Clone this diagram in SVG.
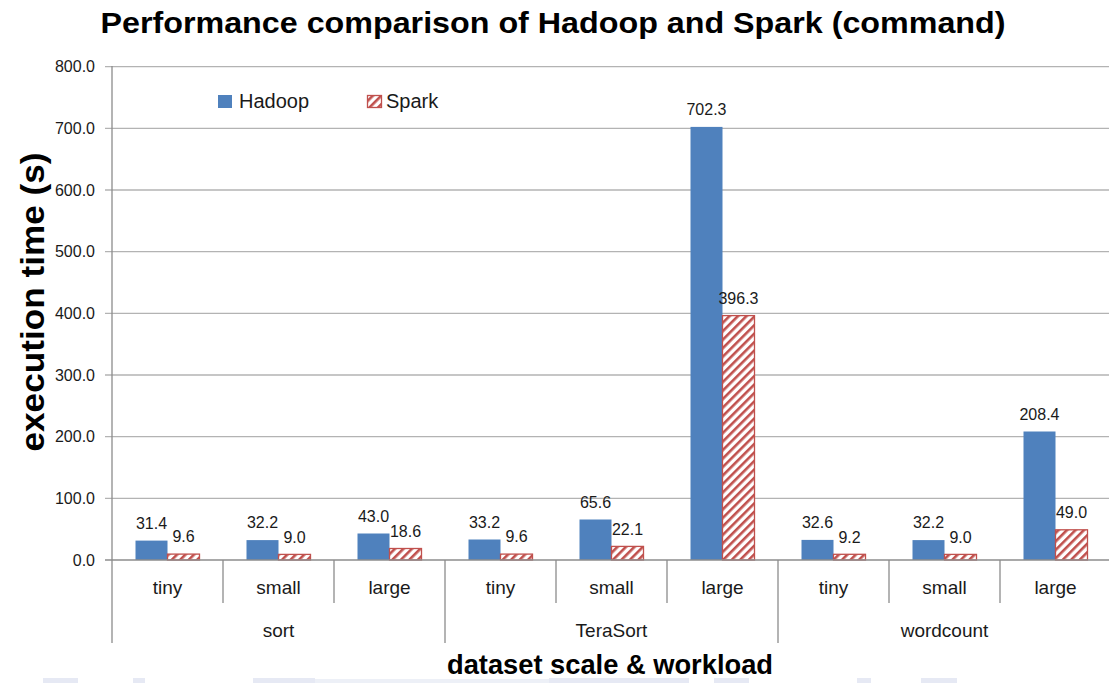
<svg xmlns="http://www.w3.org/2000/svg" width="1109" height="683" viewBox="0 0 1109 683">
<style>
text{font-family:"Liberation Sans",Arial,sans-serif;fill:#1a1a1a}
.grid{stroke:#b3b3b3;stroke-width:1.3}
.axis{stroke:#8c8c8c;stroke-width:1.3;fill:none}
.tick{font-size:16px;text-anchor:end}
.val{font-size:16px;text-anchor:middle}
.cat{font-size:19px;text-anchor:middle}
.grp{font-size:19px;text-anchor:middle}
.had{fill:#4f81bd}
.spk{fill:url(#hatch);stroke:#c0504d;stroke-width:1.3}
.faint{fill:#e6e9f4}
</style>
<defs>
<pattern id="hatch" patternUnits="userSpaceOnUse" width="6" height="6" patternTransform="rotate(45)">
<rect width="6" height="6" fill="#ffffff"/>
<rect x="0" y="0" width="2.6" height="6" fill="#c0504d"/>
</pattern>
</defs>
<rect width="1109" height="683" fill="#ffffff"/>

<g id="faint-strip">
<rect class="faint" x="43" y="678" width="35" height="5"/>
<rect class="faint" x="133" y="678" width="12" height="5"/>
<rect class="faint" x="253" y="678" width="62" height="5"/>
<rect class="faint" x="315" y="679" width="235" height="4" opacity="0.7"/>
<rect class="faint" x="549" y="678" width="140" height="5"/>
<rect class="faint" x="714" y="678" width="35" height="5"/>
<rect class="faint" x="857" y="678" width="14" height="5"/>
<rect class="faint" x="921" y="678" width="36" height="5"/>
</g>

<text id="title" x="553" y="33" font-size="30" font-weight="bold" text-anchor="middle" textLength="905" lengthAdjust="spacingAndGlyphs" style="fill:#000">Performance comparison of Hadoop and Spark (command)</text>

<g id="gridlines">
<line class="grid" x1="105" y1="66.7" x2="1109" y2="66.7"/>
<line class="grid" x1="105" y1="128.3" x2="1109" y2="128.3"/>
<line class="grid" x1="105" y1="190" x2="1109" y2="190"/>
<line class="grid" x1="105" y1="251.7" x2="1109" y2="251.7"/>
<line class="grid" x1="105" y1="313.3" x2="1109" y2="313.3"/>
<line class="grid" x1="105" y1="375" x2="1109" y2="375"/>
<line class="grid" x1="105" y1="436.7" x2="1109" y2="436.7"/>
<line class="grid" x1="105" y1="498.3" x2="1109" y2="498.3"/>
</g>

<g id="y-ticks">
<text class="tick" x="95" y="72">800.0</text>
<text class="tick" x="95" y="133.5">700.0</text>
<text class="tick" x="95" y="195.5">600.0</text>
<text class="tick" x="95" y="257">500.0</text>
<text class="tick" x="95" y="318.5">400.0</text>
<text class="tick" x="95" y="380.5">300.0</text>
<text class="tick" x="95" y="442">200.0</text>
<text class="tick" x="95" y="503.5">100.0</text>
<text class="tick" x="95" y="565.5">0.0</text>
</g>

<text id="y-title" transform="translate(44,302) rotate(-90)" font-size="34" font-weight="bold" text-anchor="middle" textLength="299" lengthAdjust="spacingAndGlyphs" style="fill:#000">execution time (s)</text>

<g id="bars">
<rect class="had" x="135.5" y="540.6" width="32" height="19.4"/>
<rect class="spk" x="167.5" y="554.1" width="32" height="5.9"/>
<rect class="had" x="246.5" y="540.1" width="32" height="19.9"/>
<rect class="spk" x="278.5" y="554.4" width="32" height="5.6"/>
<rect class="had" x="357.5" y="533.5" width="32" height="26.5"/>
<rect class="spk" x="389.5" y="548.5" width="32" height="11.5"/>
<rect class="had" x="468.5" y="539.5" width="32" height="20.5"/>
<rect class="spk" x="500.5" y="554.1" width="32" height="5.9"/>
<rect class="had" x="579.5" y="519.5" width="32" height="40.5"/>
<rect class="spk" x="611.5" y="546.4" width="32" height="13.6"/>
<rect class="had" x="690.5" y="126.9" width="32" height="433.1"/>
<rect class="spk" x="722.5" y="315.6" width="32" height="244.4"/>
<rect class="had" x="801.5" y="539.9" width="32" height="20.1"/>
<rect class="spk" x="833.5" y="554.3" width="32" height="5.7"/>
<rect class="had" x="912.5" y="540.1" width="32" height="19.9"/>
<rect class="spk" x="944.5" y="554.4" width="32" height="5.6"/>
<rect class="had" x="1023.5" y="431.5" width="32" height="128.5"/>
<rect class="spk" x="1055.5" y="529.8" width="32" height="30.2"/>
</g>

<g id="value-labels">
<text class="val" x="151.5" y="528.5">31.4</text>
<text class="val" x="183.5" y="542">9.6</text>
<text class="val" x="262.5" y="528">32.2</text>
<text class="val" x="294.5" y="542.5">9.0</text>
<text class="val" x="373.5" y="521.5">43.0</text>
<text class="val" x="405.5" y="536.5">18.6</text>
<text class="val" x="484.5" y="527.5">33.2</text>
<text class="val" x="516.5" y="542">9.6</text>
<text class="val" x="595.5" y="507.5">65.6</text>
<text class="val" x="627.5" y="534.5">22.1</text>
<text class="val" x="706.5" y="115">702.3</text>
<text class="val" x="738.5" y="303.5">396.3</text>
<text class="val" x="817.5" y="528">32.6</text>
<text class="val" x="849.5" y="542.5">9.2</text>
<text class="val" x="928.5" y="528">32.2</text>
<text class="val" x="960.5" y="542.5">9.0</text>
<text class="val" x="1039.5" y="419.5">208.4</text>
<text class="val" x="1071.5" y="518">49.0</text>
</g>

<g id="axes">
<line class="axis" x1="112" y1="66" x2="112" y2="643"/>
<line class="axis" x1="105" y1="560" x2="1109" y2="560"/>
<line class="axis" x1="223" y1="560" x2="223" y2="603"/>
<line class="axis" x1="334" y1="560" x2="334" y2="603"/>
<line class="axis" x1="445" y1="560" x2="445" y2="643"/>
<line class="axis" x1="556" y1="560" x2="556" y2="603"/>
<line class="axis" x1="667" y1="560" x2="667" y2="603"/>
<line class="axis" x1="778" y1="560" x2="778" y2="643"/>
<line class="axis" x1="889" y1="560" x2="889" y2="603"/>
<line class="axis" x1="1000" y1="560" x2="1000" y2="603"/>
</g>

<g id="categories">
<text class="cat" x="167.5" y="594">tiny</text>
<text class="cat" x="278.5" y="594">small</text>
<text class="cat" x="389.5" y="594">large</text>
<text class="cat" x="500.5" y="594">tiny</text>
<text class="cat" x="611.5" y="594">small</text>
<text class="cat" x="722.5" y="594">large</text>
<text class="cat" x="833.5" y="594">tiny</text>
<text class="cat" x="944.5" y="594">small</text>
<text class="cat" x="1055.5" y="594">large</text>
</g>

<g id="groups">
<text class="grp" x="278.5" y="637">sort</text>
<text class="grp" x="611.5" y="637">TeraSort</text>
<text class="grp" x="944.5" y="637">wordcount</text>
</g>

<text id="x-title" x="610" y="674" font-size="27" font-weight="bold" text-anchor="middle" textLength="326" lengthAdjust="spacingAndGlyphs" style="fill:#000">dataset scale &amp; workload</text>

<g id="legend">
<rect class="had" x="218" y="95" width="14" height="13"/>
<text x="239" y="108" font-size="20">Hadoop</text>
<rect class="spk" x="367.5" y="95.5" width="14" height="12"/>
<text x="386" y="108" font-size="20">Spark</text>
</g>
</svg>
